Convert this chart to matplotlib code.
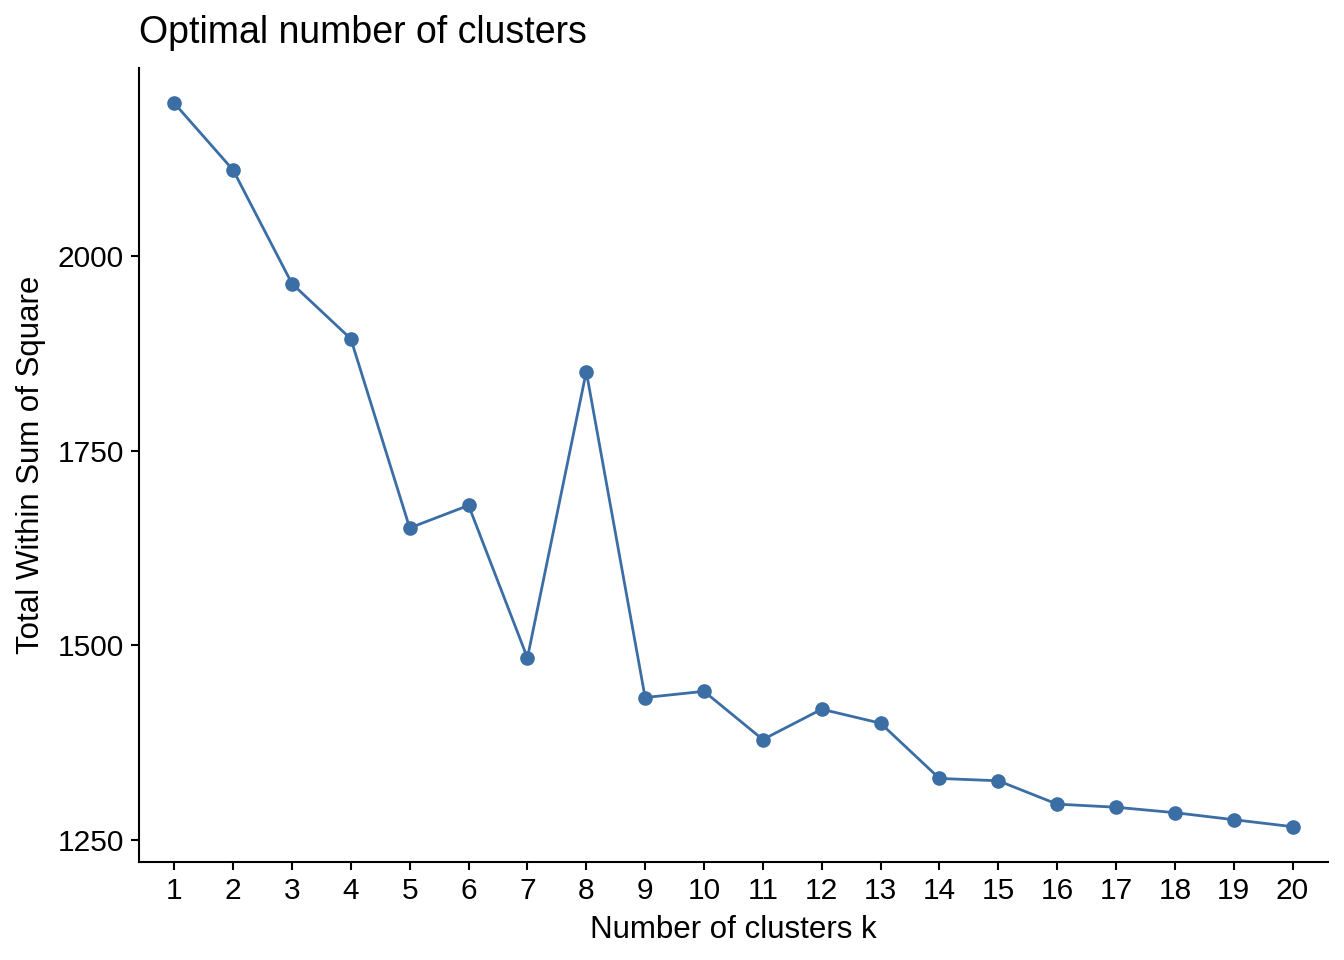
import matplotlib
matplotlib.use('Agg')
import matplotlib.pyplot as plt

# elbow plot data
k = list(range(1, 21))
wss = [2197, 2111, 1965, 1894, 1651, 1680, 1484, 1852, 1433, 1441,
       1379, 1418, 1400, 1329, 1326, 1296, 1292, 1285, 1276, 1267]
yticks = [1250, 1500, 1750, 2000]

plt.rcParams['font.family'] = ['Liberation Sans', 'DejaVu Sans']
col = "#3a6ea5"

fig = plt.figure(figsize=(13.44, 9.6), dpi=100)
ax = fig.add_axes([0.1034, 0.102, 0.8846, 0.827])

ax.plot(k, wss, color=col, lw=2, marker='o', markersize=9.5, zorder=3)

ax.set_xlim(0.4, 20.6)
ax.set_ylim(1221.5, 2242)
ax.set_xticks(k)
ax.set_yticks(yticks)
ax.tick_params(labelsize=21.5, length=6, width=1.5, color='black', pad=5)
ax.spines['top'].set_visible(False)
ax.spines['right'].set_visible(False)
ax.spines['left'].set_linewidth(1.5)
ax.spines['bottom'].set_linewidth(1.5)

ax.set_xlabel("Number of clusters k", fontsize=22.5, labelpad=7)
ax.set_ylabel("Total Within Sum of Square", fontsize=22.5, labelpad=8)
ax.set_title("Optimal number of clusters", fontsize=27, loc='left', pad=18)

fig.savefig("out.png", dpi=100)
